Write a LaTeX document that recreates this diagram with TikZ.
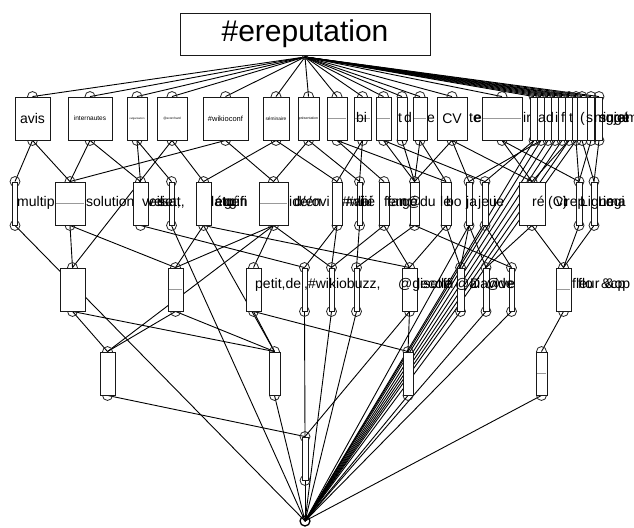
\documentclass[tikz,border=0pt]{standalone}
\usepackage{fontspec}
\setmainfont{Liberation Sans}
\pgfdeclarelayer{bg}
\pgfdeclarelayer{edges}
\pgfsetlayers{bg,edges,main}
\tikzset{
  cbox/.style={draw=black!90, fill=white, line width=0.9pt, inner sep=0pt, minimum height=43pt},
  frag/.style={font=\fontsize{14}{14}\selectfont, inner sep=0pt, anchor=base west},
  edge/.style={line width=0.9pt, black},
  port/.style={line width=0.8pt, black!85},
  midline/.style={black!40, line width=0.4pt},
}
\newcommand\cn[5]{\node[cbox, minimum width=#4pt] (#1) at (#2,#3+21.5) {#5};}
\newcommand\fsz[1]{\fontsize{#1}{#1}\selectfont}
\begin{document}
\begin{tikzpicture}[x=1pt,y=-1pt]
\begin{pgfonlayer}{bg}
\fill[white] (0,0) rectangle (634,527);
\end{pgfonlayer}
\useasboundingbox (0,0) rectangle (634,527);

% top concept
\node[cbox, minimum width=250pt, minimum height=42pt, font=\fsz{30}] (top) at (305,34) {\#ereputation};
\coordinate (topc) at (305,57);

% row 1
\cn{a1}{32.5}{97}{35}{\fsz{14}avis}
\cn{a2}{90}{97}{44}{\fsz{6.5}internautes}
\cn{a3}{137}{97}{20}{\fsz{2.7}vulgarisation}
\cn{a4}{172}{97}{30}{\fsz{3.2}@ecorchard}
\cn{a5}{225.5}{97}{45}{\fsz{7.5}\#wikioconf}
\cn{a6}{276}{97}{26}{\fsz{4.8}séminaire}
\cn{a7}{308.5}{97}{21}{\fsz{3.5}présentation}
\cn{a8}{337}{97}{20}{}
\cn{a9}{362.5}{97}{17}{}
\cn{a10}{383.5}{97}{15}{}
\cn{a11}{402}{97}{10}{}
\node[frag] (f1e) at (427,122) {e};
\cn{a12}{420}{97}{14}{}
\cn{a13}{452}{97}{30}{\fsz{14}CV}
\node[frag] (f1te) at (469,122) {te};
\node[frag] (f1tx) at (474,122) {e};
\cn{a14}{502}{97}{40}{}
\node[frag] (f1ira) at (523,122) {ira};
\cn{a15}{534}{97}{7}{}
\cn{a16}{541}{97}{7}{}
\cn{a17}{548}{97}{7}{}
\cn{a18}{555}{97}{7}{}
\cn{a19}{562}{97}{7}{}
\cn{a20}{569}{97}{7}{}
\cn{a21}{576}{97}{7}{}
\cn{a22}{582}{97}{10}{}
\cn{a23}{591}{97}{7}{}
\cn{a24}{599}{97}{7}{}

% row 2
\node[frag] (f2a) at (17,206) {multip};
\node[frag] (f2b) at (86,206) {solution};
\cn{b1}{15}{182}{5}{}
\cn{b2}{70}{182}{30}{}
\cn{b3}{140.5}{182}{15}{}
\cn{b4}{171.5}{182}{5}{}
\cn{b5}{203.5}{182}{15}{}
\cn{b6}{273.5}{182}{29}{}
\cn{b7}{337}{182}{10}{}
\cn{b8}{359.5}{182}{5}{}
\cn{b9}{384}{182}{10}{}
\cn{b10}{414.5}{182}{9}{}
\cn{b11}{446}{182}{10}{}
\cn{b12}{469}{182}{6}{}
\cn{b13}{485}{182}{6}{}
\cn{b14}{532}{182}{26}{}
\cn{b15}{579}{182}{6}{}
\cn{b16}{594}{182}{6}{}

% row 3
\cn{c1}{72.5}{268}{25}{}
\cn{c2}{175.5}{268}{15}{}
\cn{c3}{253.5}{268}{15}{}
\cn{c4}{304.5}{268}{5}{}
\cn{c5}{331.5}{268}{5}{}
\cn{c6}{356.5}{268}{5}{}
\cn{c7}{409.5}{268}{15}{}
\cn{c8}{460.5}{268}{7}{}
\cn{c9}{486}{268}{6}{}
\cn{c10}{511.5}{268}{5}{}
\cn{c11}{563.5}{268}{15}{}

% row 4 and 5
\cn{d1}{107.5}{352}{15}{}
\cn{d2}{274.5}{352}{11}{}
\cn{d3}{408}{352}{10}{}
\cn{d4}{541.5}{352}{11}{}
\cn{e1}{305}{437}{6}{}

\node[circle, draw, minimum size=10pt, inner sep=0pt, line width=1.3pt] (bot) at (305,521) {};

% thin middle lines (labels too small to read)
\foreach \n in {a8,a9,a10,a12,a14,b2,b6,c2,c11,d4}
  \draw[midline] ([xshift=1.5pt]\n.west) -- ([xshift=-1.5pt]\n.east);

% overflowing labels, row 1
\node[frag] (f1bi) at (356,122) {bi};
\node[frag] (f1t) at (398,122) {t};
\node[frag] (f1d) at (404,122) {d};
\node[frag] (f1a) at (538,122) {a};
\node[frag] (f1dd) at (546,122) {d};
\node[frag] (f1i) at (555,122) {i};
\node[frag] (f1f) at (561,122) {f};
\node[frag] (f1tt) at (569,122) {t};
\node[frag] (f1p) at (580,122) {(};
\node[frag] (f1s) at (586,122) {s};
\node[frag] (f1m) at (594,122) {mgram};
\node[frag] (f1m2) at (599,122) {sujet};
\node[frag] (f1m3) at (603,122) {ingé};

% overflowing labels, row 2
\node[frag] (f2c) at (142,206) {veil};
\node[frag] (f2d) at (147,206) {vei};
\node[frag] (f2e) at (158,206) {set,};
\node[frag] (f2f) at (162,206) {sat,};
\node[frag] (f2g) at (211,206) {lato};
\node[frag] (f2h) at (215,206) {étu};
\node[frag] (f2i) at (224,206) {gén};
\node[frag] (f2j) at (229,206) {gifi};
\node[frag] (f2k) at (289,206) {ide/ovi};
\node[frag] (f2l) at (294,206) {d/en};
\node[frag] (f2m) at (342,206) {\#wi};
\node[frag] (f2n) at (346,206) {\#ai};
\node[frag] (f2o) at (358,206) {lai};
\node[frag] (f2p) at (361,206) {lié};
\node[frag] (f2q) at (384,206) {fem};
\node[frag] (f2r) at (387,206) {fan};
\node[frag] (f2s) at (402,206) {gé};
\node[frag] (f2t) at (407,206) {@};
\node[frag] (f2u) at (420,206) {du};
\node[frag] (f2v) at (440,206) {le};
\node[frag] (f2w) at (446,206) {bo};
\node[frag] (f2x) at (466,206) {ja};
\node[frag] (f2y) at (478,206) {jeu};
\node[frag] (f2z) at (493,206) {ie};
\node[frag] (f2aa) at (532,206) {ré};
\node[frag] (f2ab) at (548,206) {(C)};
\node[frag] (f2ac) at (556,206) {vi};
\node[frag] (f2ad) at (565,206) {rep};
\node[frag] (f2ae) at (580,206) {Ligne};
\node[frag] (f2af) at (598,206) {Logi};
\node[frag] (f2ag) at (603,206) {ima};

% overflowing labels, row 3
\node[frag] (f3a) at (255,288) {petit,de};
\node[frag] (f3b) at (304,288) {,\#wikiobuzz,};
\node[frag] (f3c) at (398,288) {@giselle};
\node[frag] (f3d) at (417,288) {lecoffi};
\node[frag] (f3e) at (455,288) {@ai};
\node[frag] (f3f) at (470,288) {Davide};
\node[frag] (f3g) at (486,288) {@ve};
\node[frag] (f3h) at (572,288) {fleur};
\node[frag] (f3i) at (578,288) {flo};
\node[frag] (f3j) at (601,288) {\&cp};
\node[frag] (f3k) at (605,288) {\&op};

\begin{pgfonlayer}{edges}
  \foreach \n in {a1,a2,a3,a4,a5,a6,a7,a8,a9,a10,a11,a12,a13,a14,a15,a16,a17,a18,a19,a20,a21,a22,a23,a24}
    \draw[edge] (topc) -- (\n.north);
  \foreach \u/\v in {a1/b1,a1/b2,a2/b2,a2/b3,a3/b3,a3/b4,a4/b5,a4/c1,a5/b2,a5/b6,a6/b5,a6/b7,a7/b6,a7/b8,
      a8/b9,a8/b11,a9/b7,a9/b8,a10/b10,a10/b13,a11/b10,a12/b10,a12/b11,a13/b10,a13/b12,a13/b14,
      a14/b14,a14/b15,a15/b13,a16/b12,a20/b14,a21/b15,a22/b16,a23/b15,a24/b16,
      b2/c1,b2/c2,b3/c4,b5/c2,b5/c7,b6/c3,b6/c2,b6/c5,b7/c4,b7/c5,b8/c6,b9/c5,b9/c7,b10/c6,b10/c10,
      b11/c7,b11/c8,b12/c8,b12/c9,b13/c10,b14/c9,b14/c11,b15/c11,b16/c11,b5/d2,b6/d1,
      c1/d1,c1/d2,c2/d1,c2/d2,c3/d2,c3/d3,c4/e1,c7/d3,c7/e1,c11/d4,d1/e1}
    \draw[edge] (\u.south) -- (\v.north);
  \foreach \u in {a15,a16,a17,a18,a19,a20,a21,b1,b4,b12,b13,c5,c6,c8,c9,c10,d2,d3,d4,e1}
    \draw[edge] (\u.south) -- (bot.center);
  \foreach \n in {a1,a2,a3,a4,a5,a6,a7,a8,a9,a10,a11,a12,a13,a14,a15,a16,a17,a18,a19,a20,a21,a22,a23,a24,
      b1,b2,b3,b4,b5,b6,b7,b8,b9,b10,b11,b12,b13,b14,b15,b16,c1,c2,c3,c4,c5,c6,c7,c8,c9,c10,c11,d1,d2,d3,d4,e1}
    {\draw[port] (\n.north) circle (5pt); \draw[port] (\n.south) circle (5pt);}
  \draw[port] (topc) circle (2.5pt);
\end{pgfonlayer}
\end{tikzpicture}
\end{document}
